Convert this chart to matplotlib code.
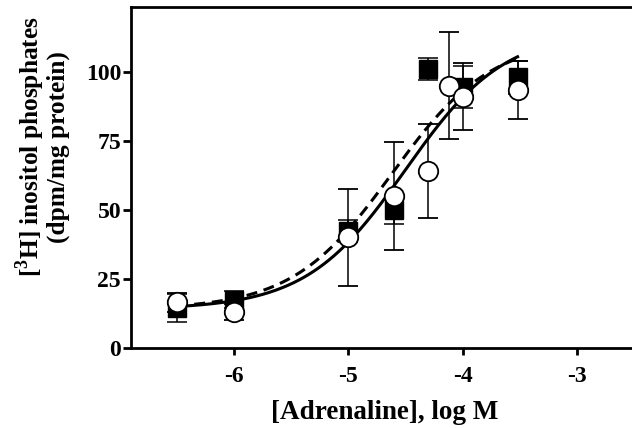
import matplotlib
matplotlib.use("Agg")
import matplotlib.pyplot as plt
import numpy as np

plt.rcParams.update({
    "font.family": ["Liberation Serif", "DejaVu Serif"],
    "font.weight": "bold",
    "mathtext.fontset": "custom",
    "mathtext.rm": "Liberation Serif:bold",
    "mathtext.bf": "Liberation Serif:bold",
})

# filled squares
sq_x = [-6.5, -6.0, -5.0, -4.6, -4.3, -4.0, -3.52]
sq_y = [14.5, 17.5, 42.5, 50.0, 101.0, 94.5, 98.0]
sq_err = [5.0, 3.0, 4.0, 5.0, 4.0, 7.5, 6.0]

# open circles
ci_x = [-6.5, -6.0, -5.0, -4.6, -4.3, -4.12, -4.0, -3.52]
ci_y = [16.5, 13.0, 40.0, 55.0, 64.0, 95.0, 91.0, 93.5]
ci_err = [3.5, 3.0, 17.5, 19.5, 17.0, 19.5, 12.0, 10.5]

# fitted sigmoid parameters (bottom, top, logEC50)
solid_fit = (14.0, 115.0, -4.50)
dashed_fit = (14.0, 112.0, -4.62)

xticks = [-6, -5, -4, -3]
yticks = [0, 25, 50, 75, 100]


def sigmoid(x, p):
    bottom, top, ec50 = p
    return bottom + (top - bottom) / (1 + 10 ** (ec50 - x))


fig = plt.figure(figsize=(6.32, 4.28), dpi=100)
ax = fig.add_axes([0.207, 0.187, 0.793, 0.797])

xs = np.linspace(min(sq_x), max(sq_x), 200)
ax.plot(xs, sigmoid(xs, solid_fit), color="black", lw=2.2, zorder=2)
ax.plot(xs, sigmoid(xs, dashed_fit), color="black", lw=2.2, ls=(0, (3.6, 2.2)), zorder=2)

ax.errorbar(sq_x, sq_y, yerr=sq_err, fmt="s", color="black", ms=13.5,
            mfc="black", mec="black", ecolor="black", elinewidth=1.1,
            capsize=7, capthick=1.1, zorder=3)
ax.errorbar(ci_x, ci_y, yerr=ci_err, fmt="o", color="black", ms=14,
            mfc="white", mec="black", mew=1.3, ecolor="black", elinewidth=1.1,
            capsize=7, capthick=1.1, zorder=4)

ax.set_xlim(-6.9, -2.52)
ax.set_ylim(0, 123.5)
ax.set_xticks(xticks, [f"-{abs(t)}" for t in xticks])
ax.set_yticks(yticks)
ax.spines["right"].set_visible(False)
for s in ["left", "bottom", "top"]:
    ax.spines[s].set_linewidth(2.0)
ax.tick_params(direction="out", width=2, labelsize=17)
ax.tick_params(axis="x", length=5, pad=8)
ax.tick_params(axis="y", length=6, pad=1)

ax.set_xlabel("[Adrenaline], log M", fontsize=19.5, fontweight="bold", va="top")
ax.xaxis.set_label_coords(0.507, -0.152)
ax.set_ylabel("[$^{3}$H] inositol phosphates\n(dpm/mg protein)", fontsize=18.3,
              fontweight="bold", linespacing=0.95)
ax.yaxis.set_label_coords(-0.122, 0.59)

fig.savefig("out.png", dpi=100)
